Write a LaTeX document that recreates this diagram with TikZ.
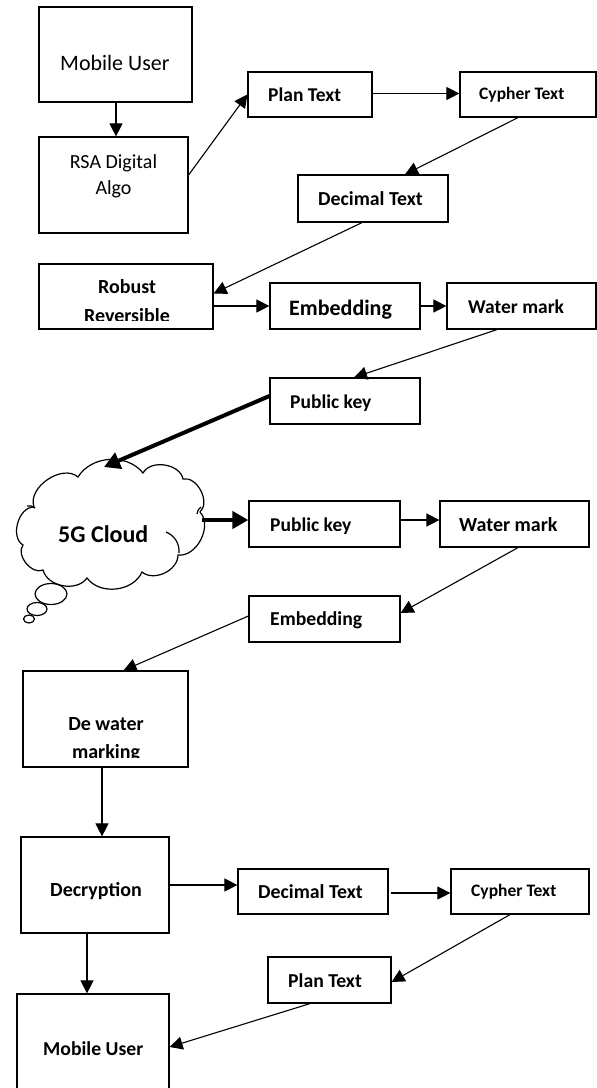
\documentclass[tikz,border=0pt]{standalone}
\usepackage{fontspec}
\setmainfont{Carlito}
\usetikzlibrary{arrows.meta,shapes.geometric}
\begin{document}
\begin{tikzpicture}[x=1pt,y=-1pt,
  box/.style={draw=black,line width=1.2pt,inner sep=0pt,fill=none},
  lbl/.style={inner sep=0pt,anchor=base west,text=black},
  lblc/.style={inner sep=0pt,anchor=base,text=black},
  arr/.style={line width=1.1pt,-{Triangle[length=13pt,width=13pt]}},
  thick arr/.style={line width=4pt,-{Triangle[length=16pt,width=17pt]}},
  cloudline/.style={draw=black,line width=1.2pt},
  bubble/.style={draw=black,line width=1.2pt}]
\useasboundingbox (0,0) rectangle (597,1088);
\fill[white] (0,0) rectangle (597,1088);
% boxes
\node[box,minimum width=153pt,minimum height=95pt] (mu1) at (115.5,54.5) {};
\node[box,minimum width=149pt,minimum height=96pt] (rsa) at (113.5,185) {};
\node[box,minimum width=124pt,minimum height=45pt] (plan1) at (310,94.5) {};
\node[box,minimum width=136pt,minimum height=45pt] (cyp1) at (528,94.5) {};
\node[box,minimum width=150pt,minimum height=47pt] (dec1) at (373,198.5) {};
\node[box,minimum width=174pt,minimum height=65pt] (rob) at (126,296.5) {};
\node[box,minimum width=150pt,minimum height=46pt] (emb1) at (345,306) {};
\node[box,minimum width=149pt,minimum height=46pt] (wm1) at (521.5,306) {};
\node[box,minimum width=150pt,minimum height=46pt] (pk1) at (345,401) {};
% cloud callout
\draw[cloudline] (34,507) to[bend left=75] (78,477) to[bend left=55] (143,473)
  to[bend left=70] (183,479) to[bend left=75] (200,512) to[bend left=70] (178,555)
  to[bend left=65] (142,572) to[bend left=60] (87,578) to[bend left=65] (43,570)
  to[bend left=75] (23,545) to[bend left=75] (34,507);
\draw[cloudline] (166,532) to[bend left=35] (179,553);
\draw[cloudline] (27,506) to[bend left=25] (35,508);
\draw[cloudline] (197,514) to[bend left=25] (201,507);
\node[bubble,ellipse,minimum width=32pt,minimum height=21pt,inner sep=0pt] (b1) at (51,594) {};
\node[bubble,ellipse,minimum width=20pt,minimum height=13pt,inner sep=0pt] (b2) at (37,609) {};
\node[bubble,ellipse,minimum width=11pt,minimum height=8pt,inner sep=0pt] (b3) at (29,619) {};
\coordinate (cloud-in) at (104,467);
\coordinate (cloud-out) at (202,520);
\node[box,minimum width=151pt,minimum height=46pt] (pk2) at (324.5,524) {};
\node[box,minimum width=149pt,minimum height=46pt] (wm2) at (514.5,524) {};
\node[box,minimum width=151pt,minimum height=46pt] (emb2) at (324.5,619) {};
\node[box,minimum width=165pt,minimum height=96pt] (dew) at (105.5,719) {};
\node[box,minimum width=148pt,minimum height=96pt] (decr) at (95,885) {};
\node[box,minimum width=150pt,minimum height=45pt] (dec2) at (313,891.5) {};
\node[box,minimum width=138pt,minimum height=45pt] (cyp2) at (520,891.5) {};
\node[box,minimum width=123pt,minimum height=46pt] (plan2) at (329.5,980) {};
\node[box,minimum width=152pt,minimum height=100pt] (mu2) at (93,1044) {};
% texts
\node[lbl,font=\fontsize{22}{26}\selectfont] (t-mu1) at (60,70) {Mobile User};
\node[lblc,font=\fontsize{20}{24}\selectfont] (t-rsa-a) at (113.5,168) {RSA Digital};
\node[lblc,font=\fontsize{20}{24}\selectfont] (t-rsa-b) at (113.5,194) {Algo};
\node[lbl,font=\bfseries\fontsize{19.5}{24}\selectfont] (t-plan1) at (268,101) {Plan Text};
\node[lbl,font=\bfseries\fontsize{17.5}{21}\selectfont] (t-cyp1) at (479,99) {Cypher Text};
\node[lbl,font=\bfseries\fontsize{19.8}{24}\selectfont] (t-dec1) at (318,205) {Decimal Text};
\node[lblc,font=\bfseries\fontsize{20}{24}\selectfont] (t-rob-a) at (127,293) {Robust};
\begin{scope}
\clip (39,264) rectangle (213,320);
\node[lblc,font=\bfseries\fontsize{20}{24}\selectfont] (t-rob-b) at (127,322) {Reversible};
\end{scope}
\node[lbl,font=\bfseries\fontsize{22}{26}\selectfont] (t-emb1) at (289,315) {Embedding};
\node[lbl,font=\bfseries\fontsize{19.5}{24}\selectfont] (t-wm1) at (468,313) {Water mark};
\node[lbl,font=\bfseries\fontsize{19.5}{24}\selectfont] (t-pk1) at (290,408) {Public key};
\node[lbl,font=\bfseries\fontsize{24}{28}\selectfont] (t-cloud) at (58,542) {5G Cloud};
\node[lbl,font=\bfseries\fontsize{19.5}{24}\selectfont] (t-pk2) at (270,531) {Public key};
\node[lbl,font=\bfseries\fontsize{20}{24}\selectfont] (t-wm2) at (459,531) {Water mark};
\node[lbl,font=\bfseries\fontsize{19.7}{24}\selectfont] (t-emb2) at (270,625) {Embedding};
\node[lblc,font=\bfseries\fontsize{20}{24}\selectfont] (t-dew-a) at (106,730) {De water};
\begin{scope}
\clip (23,671) rectangle (188,757);
\node[lblc,font=\bfseries\fontsize{20}{24}\selectfont] (t-dew-b) at (106,758) {marking};
\end{scope}
\node[lbl,font=\bfseries\fontsize{20}{24}\selectfont] (t-decr) at (50,896) {Decryption};
\node[lbl,font=\bfseries\fontsize{19.8}{24}\selectfont] (t-dec2) at (258,898) {Decimal Text};
\node[lbl,font=\bfseries\fontsize{17.5}{21}\selectfont] (t-cyp2) at (471,896) {Cypher Text};
\node[lbl,font=\bfseries\fontsize{19.7}{24}\selectfont] (t-plan2) at (288,987) {Plan Text};
\node[lbl,font=\bfseries\fontsize{19.7}{24}\selectfont] (t-mu2) at (43,1055) {Mobile User};
% connectors
\draw[arr] ([xshift=0.5pt]mu1.south) -- ([xshift=0.5pt]mu1.south |- rsa.north);
\draw[arr] ([yshift=10pt]rsa.east) -- (plan1.west);
\draw[arr] ([yshift=1pt]plan1.east) -- ([yshift=1pt]cyp1.west);
\draw[arr] ([xshift=-10pt]cyp1.south) -- ([xshift=32pt]dec1.north);
\draw[arr] ([xshift=-11pt]dec1.south) -- ([yshift=3pt]rob.east);
\draw[arr] (rob.east |- emb1.west) -- (emb1.west);
\draw[arr] (emb1.east) -- (wm1.west);
\draw[arr] ([xshift=-24.5pt]wm1.south) -- ([xshift=9pt]pk1.north);
\draw[thick arr] ([yshift=5pt]pk1.west) -- (cloud-in);
\draw[thick arr] (cloud-out) -- (cloud-out -| pk2.west);
\draw[arr] ([yshift=4pt]pk2.east) -- ([yshift=4pt]wm2.west);
\draw[arr] ([xshift=3.5pt]wm2.south) -- ([yshift=6pt]emb2.east);
\draw[arr] ([yshift=3pt]emb2.west) -- ([xshift=18pt]dew.north);
\draw[arr] ([xshift=-3.5pt]dew.south) -- ([xshift=-3.5pt]dew.south |- decr.north);
\draw[arr] (decr.east) -- (decr.east -| dec2.west);
\draw[arr] ([xshift=2pt,yshift=-1.5pt]dec2.east) -- ([yshift=-1.5pt]cyp2.west);
\draw[arr] ([xshift=-10pt]cyp2.south) -- ([yshift=-2pt]plan2.east);
\draw[arr] ([xshift=-19.5pt]plan2.south) -- ([yshift=-3pt]mu2.east);
\draw[arr] ([xshift=-8pt]decr.south) -- ([xshift=-8pt]decr.south |- mu2.north);
\end{tikzpicture}
\end{document}
